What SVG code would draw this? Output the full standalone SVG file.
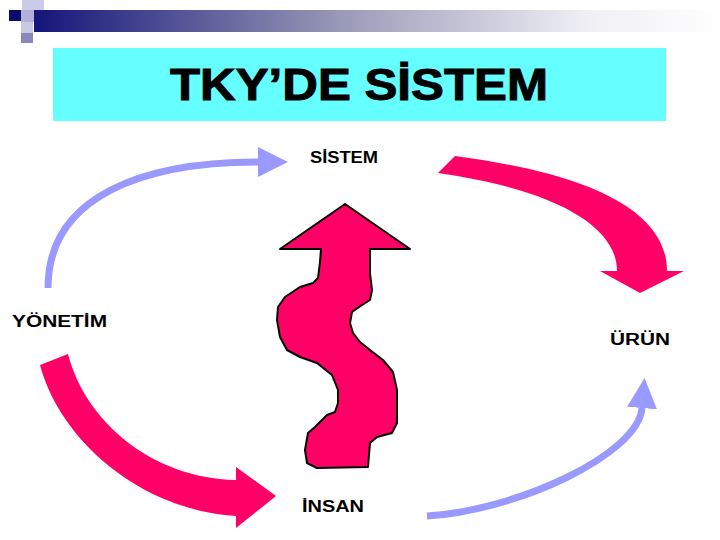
<svg xmlns="http://www.w3.org/2000/svg" width="720" height="540" viewBox="0 0 720 540">
<defs>
<linearGradient id="bar" x1="0" y1="0" x2="1" y2="0">
<stop offset="0" stop-color="#15157a"/>
<stop offset="0.45" stop-color="#9a9ab8"/>
<stop offset="0.8" stop-color="#eeeef4"/>
<stop offset="1" stop-color="#ffffff"/>
</linearGradient>
<marker id="ah" markerUnits="userSpaceOnUse" markerWidth="30" markerHeight="30" refX="0" refY="15" orient="auto" viewBox="0 0 30 30">
<path d="M0,0 L30,15 L0,30 Z" fill="#9999ff"/>
</marker>
<style>
.lbl{font-family:"Liberation Sans",Arial,sans-serif;font-weight:bold;font-size:16px;fill:#000}
.blue{fill:none;stroke:#9999ff;stroke-width:7}
.pink{fill:#ff0066}
</style>
</defs>
<rect width="720" height="540" fill="#fff"/>
<g id="decor">
<rect x="34" y="10" width="686" height="22" fill="url(#bar)"/>
<rect x="22" y="0" width="22" height="10" fill="#ccccea"/>
<rect x="9" y="10" width="12" height="11" fill="#0b0b6e"/>
<rect x="21" y="10" width="13" height="12" fill="#b0b0d8"/>
<rect x="21" y="22" width="12" height="11" fill="#c8c8e6"/>
<rect x="21" y="33" width="12" height="10" fill="#8888bb"/>
</g>
<g id="title">
<rect x="53" y="48" width="613" height="73" fill="#66ffff"/>
<text x="170" y="100" font-family="Liberation Sans,Arial,sans-serif" font-weight="bold" font-size="44" textLength="378" lengthAdjust="spacingAndGlyphs" stroke="#000" stroke-width="1">TKY’DE SİSTEM</text>
</g>
<g id="connectors">
<path class="blue" d="M48,288 C48,195 145,162 258,162" marker-end="url(#ah)"/>
<path class="blue" d="M427,516 C515,511 638,455 642,408" marker-end="url(#ah)"/>
<path class="pink" d="M455,156 C560,170 667,200 667,271 L684,271 L640,293 L600,271 L617,271 C617,222 545,188 438,173 Z"/>
<path class="pink" d="M40,365 L68,354 C85,420 150,478 236,480 L236,467 L276,496 L236,528 L236,516 C140,510 60,440 40,365 Z"/>
</g>
<g id="center-arrow">
<path d="M345,204 L410,249 L370,249 L370,273 L372,290 L370,300 L362,305 L352,312 L350,323 L353,333 L360,342 L370,350 L383,360 L393,372 L397,390 L397,423 L392,433 L377,437 L370,443 L368,467 L317,468 L307,463 L305,450 L308,433 L315,427 L327,415 L335,412 L338,403 L338,390 L332,375 L317,363 L300,357 L287,350 L280,337 L277,320 L278,307 L285,297 L300,287 L313,283 L318,278 L320,262 L321,249 L280,249 Z" fill="#ff0066" stroke="#000" stroke-width="2" stroke-linejoin="round"/>
</g>
<g id="node-sistem"><text class="lbl" x="310" y="163" textLength="68" lengthAdjust="spacingAndGlyphs">SİSTEM</text></g>
<g id="node-yonetim"><text class="lbl" x="12" y="327" textLength="95" lengthAdjust="spacingAndGlyphs">YÖNETİM</text></g>
<g id="node-urun"><text class="lbl" x="610" y="345" textLength="60" lengthAdjust="spacingAndGlyphs">ÜRÜN</text></g>
<g id="node-insan"><text class="lbl" x="302" y="512" textLength="62" lengthAdjust="spacingAndGlyphs">İNSAN</text></g>
</svg>
